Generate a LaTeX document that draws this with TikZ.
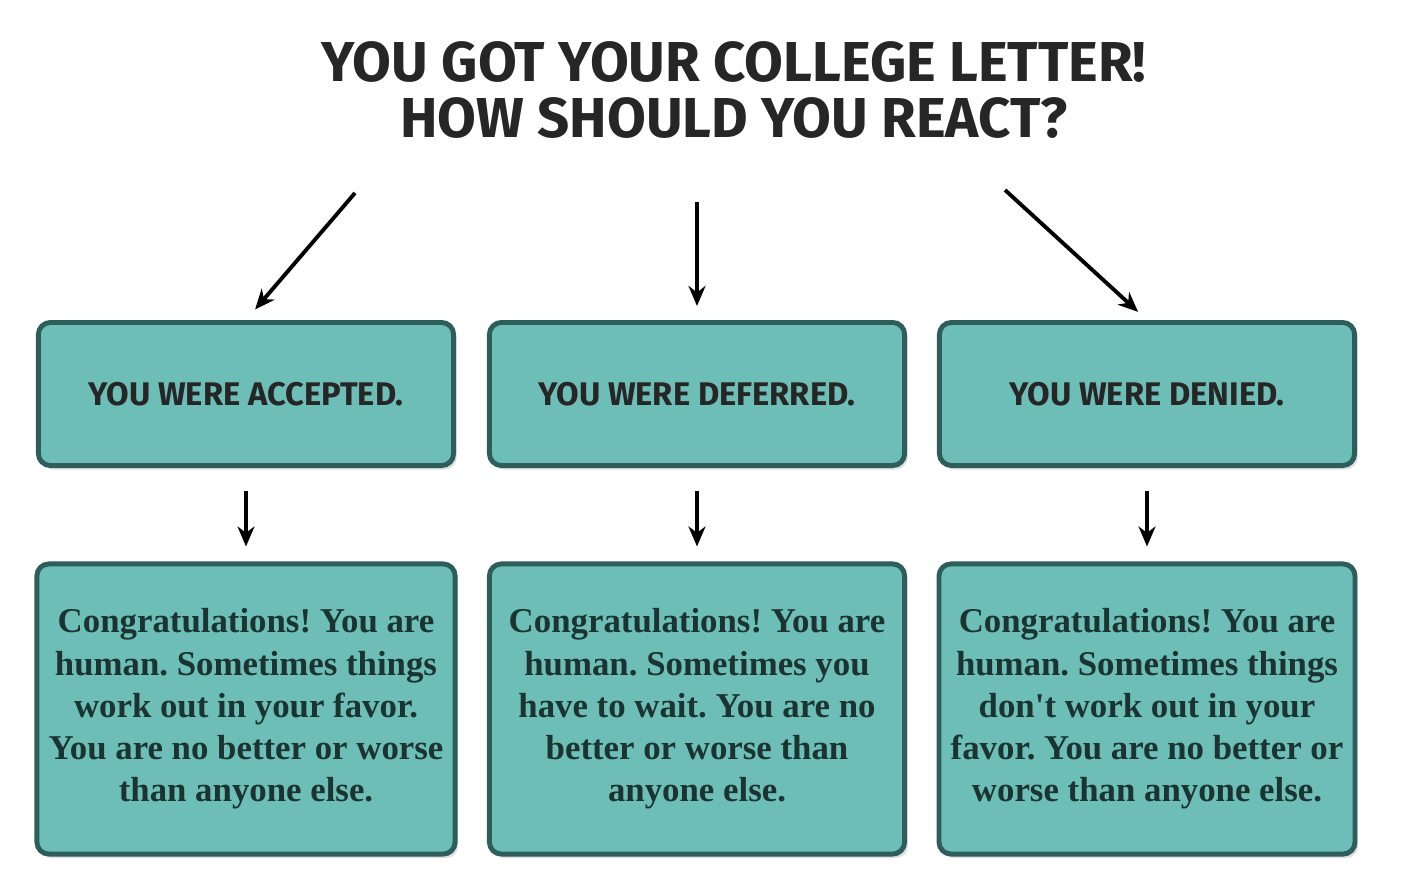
\documentclass[tikz,border=0pt]{standalone}
\usepackage{fontspec}
\setmainfont{Liberation Serif}
\newfontfamily\handfont{Fira Sans}
\usetikzlibrary{arrows.meta,shadows}

\definecolor{boxfill}{HTML}{6DBEB7}
\definecolor{boxedge}{HTML}{2E5E5B}
\definecolor{boxtext}{HTML}{1B3431}

\tikzset{
  verdict/.style={draw=boxedge, fill=boxfill, line width=1.4pt, rounded corners=0.12cm,
    minimum width=4.15cm, minimum height=1.43cm, text=black!85,
    font=\handfont\bfseries\fontsize{9.3}{11}\selectfont,
    drop shadow={opacity=0.25, shadow xshift=0.03cm, shadow yshift=-0.04cm}},
  advice/.style={verdict, minimum height=2.9cm, align=center, text=boxtext,
    font=\frenchspacing\bfseries\fontsize{9.9}{12}\selectfont},
  pointer/.style={->, line width=1.1pt}
}

\begin{document}
\begin{tikzpicture}[x=0.01cm, y=-0.01cm, >={Stealth[length=0.2cm,width=0.17cm]}]
  \useasboundingbox (0,0) rectangle (1410,894);

  % Title
  \node[align=center, font=\handfont\bfseries\fontsize{16}{16}\selectfont, text=black!85] (title)
    at (734, 90) {YOU GOT YOUR COLLEGE LETTER!\\HOW SHOULD YOU REACT?};

  % Arrow starts
  \coordinate (fromacc) at (355,193);
  \coordinate (fromdef) at (697,202);
  \coordinate (fromden) at (1005,190);

  % Verdicts
  \node[verdict] (acc) at (246,394) {YOU WERE ACCEPTED.};
  \node[verdict] (def) at (697,394) {YOU WERE DEFERRED.};
  \node[verdict] (den) at (1147,394) {YOU WERE DENIED.};

  % Advice
  \node[advice] (advacc) at (246,709) {Congratulations! You are\\human. Sometimes things\\work out in your favor.\\You are no better or worse\\than anyone else.};
  \node[advice] (advdef) at (697,709) {Congratulations! You are\\human. Sometimes you\\have to wait. You are no\\better or worse than\\anyone else.};
  \node[advice] (advden) at (1147,709) {Congratulations! You are\\human. Sometimes things\\don\textquotesingle t work out in your\\favor. You are no better or\\worse than anyone else.};

  % Connectors
  \draw[pointer, shorten >=0.14cm] (fromacc) -- (acc.north);
  \draw[pointer, shorten >=0.14cm] (fromdef) -- (def.north);
  \draw[pointer, shorten >=0.12cm] (fromden) -- (den.north);
  \foreach \a/\b in {acc/advacc, def/advdef, den/advden}
    \draw[pointer, shorten <=0.23cm, shorten >=0.15cm] (\a.south) -- (\b.north);
\end{tikzpicture}
\end{document}
